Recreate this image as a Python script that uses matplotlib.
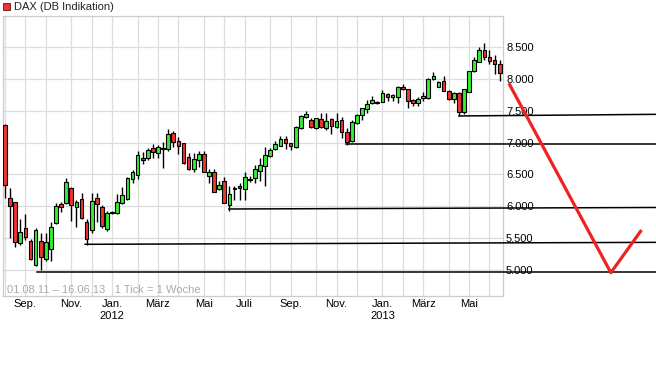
import matplotlib
matplotlib.use("Agg")
import matplotlib.pyplot as plt
from matplotlib.patches import Rectangle
import numpy as np
import pandas as pd

plt.rcParams["font.family"] = ["Liberation Sans", "DejaVu Sans"]

# weekly candles, 01.08.11 - 16.06.13 (one per week)
start = pd.Timestamp("2011-08-01")
opens = [7276, 6121, 6058, 5413, 5649, 5449, 5066, 5449, 5160, 5318,
         5728, 6027, 6043, 6279, 5989, 6106, 5753, 5622, 6121, 5989,
         5638, 5890, 5885, 6043, 6106, 6420, 6488, 6751, 6751, 6909,
         6830, 6895, 6898, 7145, 7029, 6987, 6767, 6578, 6725, 6814,
         6473, 6531, 6263, 6394, 6011, 6265, 6315, 6263, 6415, 6436,
         6551, 6630, 6787, 6898, 6950, 7050, 6987, 6925, 7224, 7397,
         7355, 7224, 7365, 7224, 7370, 7240, 7355, 7161, 7024, 7302,
         7433, 7528, 7618, 7625, 7643, 7764, 7721, 7721, 7870, 7838,
         7670, 7618, 7696, 7696, 8000, 7880, 7969, 7811, 7680, 7775,
         7476, 7800, 8126, 8273, 8457, 8342, 8300, 8236]
highs = [7292, 6279, 6070, 5795, 5869, 5474, 5659, 5575, 5575, 5753,
         6043, 6070, 6436, 6300, 6100, 6200, 5790, 6200, 6200, 6010,
         5915, 5915, 6190, 6295, 6450, 6570, 6866, 6850, 6910, 6980,
         6960, 7013, 7208, 7180, 7090, 7000, 6830, 6830, 6860, 6870,
         6590, 6590, 6390, 6460, 6310, 6310, 6355, 6540, 6480, 6650,
         6760, 6934, 6920, 7024, 7105, 7105, 6990, 7260, 7430, 7496,
         7390, 7390, 7460, 7470, 7390, 7460, 7400, 7230, 7350, 7450,
         7550, 7670, 7730, 7660, 7830, 7780, 7760, 7890, 7920, 7850,
         7680, 7720, 7790, 8020, 8110, 7970, 8040, 7830, 7790, 7800,
         7850, 8130, 8340, 8500, 8562, 8457, 8380, 8300]
lows = [6121, 5501, 5359, 5390, 5470, 5150, 5050, 4987, 5139, 5130,
        5720, 5908, 6030, 5769, 5674, 5800, 5386, 5570, 5753, 5650,
        5610, 5880, 5880, 6030, 6090, 6358, 6420, 6660, 6730, 6750,
        6750, 6603, 6860, 6930, 6820, 6660, 6570, 6530, 6610, 6531,
        6360, 6220, 6250, 6040, 5926, 6090, 6100, 6100, 6380, 6358,
        6400, 6320, 6770, 6880, 6940, 6898, 6882, 6910, 7210, 7390,
        7230, 7210, 7230, 7200, 7129, 7230, 7066, 6961, 7010, 7290,
        7360, 7460, 7610, 7610, 7640, 7660, 7660, 7620, 7830, 7539,
        7570, 7570, 7650, 7690, 7990, 7870, 7810, 7670, 7620, 7418,
        7450, 7790, 8110, 8260, 8300, 8230, 8074, 7969]
closes = [6326, 6005, 5438, 5586, 5517, 5160, 5617, 5202, 5428, 5665,
          6005, 5989, 6373, 6016, 6058, 5806, 5476, 6079, 6027, 5685,
          5895, 5900, 6058, 6173, 6436, 6531, 6803, 6720, 6882, 6855,
          6925, 6905, 7129, 7013, 6950, 6673, 6578, 6735, 6814, 6531,
          6531, 6225, 6326, 6043, 6184, 6275, 6279, 6452, 6425, 6578,
          6641, 6803, 6882, 6977, 7050, 6987, 6950, 7240, 7418, 7444,
          7240, 7380, 7240, 7339, 7260, 7339, 7161, 7003, 7318, 7433,
          7539, 7606, 7670, 7635, 7775, 7721, 7748, 7870, 7838, 7658,
          7618, 7684, 7733, 8000, 8047, 7948, 7816, 7680, 7775, 7476,
          7843, 8126, 8300, 8457, 8352, 8288, 8236, 8090]

# support lines: start week, start level, end level
sup_start = [6.3, 15.7, 43.9, 66.9, 89.0]
sup_lvl0 = [4956, 5397, 5953, 6977, 7418]
sup_lvl1 = [4956, 5428, 5977, 6977, 7444]

# drawn red forecast stroke (week, level)
fc_x = [98.8, 118.8, 124.8]
fc_y = [7933, 4950, 5622]

month_starts = pd.date_range("2011-08-01", "2013-06-01", freq="MS")
month_names = {1: "Jan.", 3: "März", 5: "Mai", 7: "Juli", 9: "Sep.", 11: "Nov."}
yticks = [5000, 5500, 6000, 6500, 7000, 7500, 8000, 8500]

W, H = 656, 392
fig = plt.figure(figsize=(W / 100, H / 100), dpi=100)
ax = fig.add_axes([3 / W, 1 - 296 / H, 500 / W, 280.5 / H])

x = np.arange(len(opens))
o = np.array(opens); c = np.array(closes)
up = c >= o
ax.vlines(x, lows, highs, color="black", lw=1.0, zorder=2)
body_lo = np.minimum(o, c)
body_h = np.maximum(np.abs(c - o), 12)
ax.bar(x, body_h, bottom=body_lo, width=0.72,
       color=np.where(up, "#33ee33", "#f03333"),
       edgecolor="black", linewidth=0.8, zorder=3)

for s, a, b in zip(sup_start, sup_lvl0, sup_lvl1):
    ax.plot([s, 128], [a, b], color="black", lw=1.1, zorder=4, clip_on=False)

ax.plot(fc_x, fc_y, color="#ee2222", lw=2.3, zorder=5, clip_on=False,
        solid_capstyle="butt")

xmin = -2 / 5.1
ax.set_xlim(xmin, xmin + 500 / 5.1)
ax.set_ylim(4583, 9000)

ticks = [((m - start).days) // 7 for m in month_starts]
labels = []
for m in month_starts:
    lab = month_names.get(m.month, "")
    if m.month == 1:
        lab += "\n%d" % m.year
    labels.append(lab)
ax.set_xticks(ticks)
ax.set_xticklabels(labels)
ax.set_yticks(yticks)
ax.set_yticklabels(["{:,}".format(v).replace(",", ".") for v in yticks])
ax.yaxis.tick_right()
ax.tick_params(axis="both", length=0, labelsize=8, colors="black")
ax.tick_params(axis="x", pad=2.5)
ax.tick_params(axis="y", pad=2.2)
ax.set_axisbelow(True)
ax.grid(True, color="#dddddd", lw=0.9)
for sp in ax.spines.values():
    sp.set_color("#cccccc")
    sp.set_linewidth(0.9)

fig.patches.append(Rectangle((3 / W, 1 - 10 / H), 7 / W, 7 / H,
                             transform=fig.transFigure, facecolor="#ee3333",
                             edgecolor="#661111", lw=0.6))
fig.text(14 / W, 1 - 6.5 / H, "DAX (DB Indikation)", fontsize=8,
         color="#222222", va="center", ha="left")
fig.text(7 / W, 1 - 290 / H, "01.08.11 \u2013 16.06.13   1 Tick = 1 Woche",
         fontsize=8, color="#aaaaaa", va="center", ha="left")

fig.savefig("out.png", dpi=100)
